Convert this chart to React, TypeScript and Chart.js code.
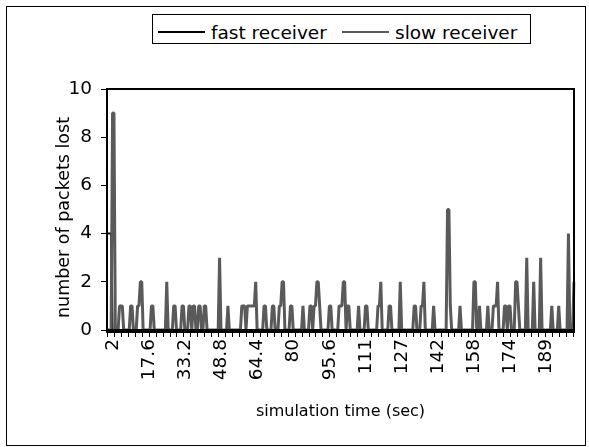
import React, { useEffect, useRef } from 'react';
import { Chart, registerables } from 'chart.js';

Chart.register(...registerables);

// ---- data ----
const TIME_START = 2;
const TIME_STEP = 0.6;
const X_LABEL_EVERY = 26;
const X_TICK_EVERY = 5;
const X_TICK_LABELS = ['2', '17.6', '33.2', '48.8', '64.4', '80', '95.6', '111', '127', '142', '158', '174', '189'];
const Y_TICKS = [0, 2, 4, 6, 8, 10];
const X_TITLE = 'simulation time (sec)';
const Y_TITLE = 'number of packets lost';

const SLOW_RECEIVER = [
  0,0,0,0,9,9,0,0,0,1,1,1,0,0,0,0,0,1,1,0,
  0,0,1,1,2,2,0,0,0,0,0,0,1,1,0,0,0,0,0,0,
  0,0,0,2,0,0,0,0,1,1,0,0,0,0,1,1,0,0,0,1,
  1,0,1,1,0,0,1,1,0,0,1,1,0,0,0,0,0,0,0,0,
  0,3,0,0,0,0,0,1,0,0,0,0,0,0,0,0,0,1,1,1,
  0,1,1,1,1,1,1,2,0,0,0,0,0,1,1,0,0,0,0,1,
  1,0,0,0,1,1,2,2,0,0,0,0,1,1,0,0,0,0,0,0,
  0,1,0,0,0,0,1,1,0,1,1,2,2,1,0,0,0,0,0,0,
  1,1,0,0,0,0,0,1,1,1,2,2,0,1,1,0,0,0,0,0,
  0,1,0,0,0,0,1,1,0,0,0,0,0,0,0,1,1,2,0,0,
  0,0,0,1,1,0,0,0,0,0,0,2,0,0,0,0,0,0,0,0,
  0,1,1,0,0,0,1,1,2,0,0,0,0,0,0,1,0,0,0,0,
  0,0,0,0,0,5,5,1,0,0,0,0,0,0,1,0,0,0,0,0,
  0,0,0,0,2,2,0,0,1,0,0,0,0,0,1,0,0,0,1,1,
  1,2,0,0,0,0,1,1,0,1,1,0,0,0,2,2,1,0,0,0,
  0,0,3,0,0,0,0,2,0,0,0,0,3,0,0,0,0,0,0,0,
  1,0,0,0,0,1,0,0,0,0,0,0,4,0,0,0,2,
];

const FAST_RECEIVER = [
  4,4,4,4,0,0,0,0,0,0,0,0,0,0,0,0,0,0,0,0,
  0,0,0,0,0,0,0,0,0,0,0,0,0,0,0,0,0,0,0,0,
  0,0,0,0,0,0,0,0,0,0,0,0,0,0,0,0,0,0,0,0,
  0,0,0,0,0,0,0,0,0,0,0,0,0,0,0,0,0,0,0,0,
  0,0,0,0,0,0,0,0,0,0,0,0,0,0,0,0,0,0,0,0,
  0,0,0,0,0,0,0,0,0,0,0,0,0,0,0,0,0,0,0,0,
  0,0,0,0,0,0,0,0,0,0,0,0,0,0,0,0,0,0,0,0,
  0,0,0,0,0,0,0,0,0,0,0,0,0,0,0,0,0,0,0,0,
  0,0,0,0,0,0,0,0,0,0,0,0,0,0,0,0,0,0,0,0,
  0,0,0,0,0,0,0,0,0,0,0,0,0,0,0,0,0,0,0,0,
  0,0,0,0,0,0,0,0,0,0,0,0,0,0,0,0,0,0,0,0,
  0,0,0,0,0,0,0,0,0,0,0,0,0,0,0,0,0,0,0,0,
  0,0,0,0,0,0,0,0,0,0,0,0,0,0,0,0,0,0,0,0,
  0,0,0,0,0,0,0,0,0,0,0,0,0,0,0,0,0,0,0,0,
  0,0,0,0,0,0,0,0,0,0,0,0,0,0,0,0,0,0,0,0,
  0,0,0,0,0,0,0,0,0,0,0,0,0,0,0,0,0,0,0,0,
  0,0,0,0,0,0,0,0,0,0,0,0,0,0,0,0,0,
];

const TIMES = SLOW_RECEIVER.map((_, i) => +(TIME_START + i * TIME_STEP).toFixed(1));

const FONT = 'DejaVu Sans';
const SLOW_COLOR = '#5a5a5a';

const framePlugin = {
  id: 'frameAndTicks',
  afterDatasetsDraw(chart: any) {
    const { ctx, chartArea } = chart;
    const xs = chart.scales.x;
    ctx.save();
    ctx.strokeStyle = '#000';
    // plot border
    ctx.lineWidth = 2;
    ctx.strokeRect(chartArea.left, chartArea.top, chartArea.right - chartArea.left, chartArea.bottom - chartArea.top);
    // heavy category axis line
    ctx.lineWidth = 4;
    ctx.beginPath();
    ctx.moveTo(chartArea.left - 1, chartArea.bottom + 1);
    ctx.lineTo(chartArea.right + 1, chartArea.bottom + 1);
    ctx.stroke();
    // category tick marks
    ctx.lineWidth = 1;
    ctx.beginPath();
    for (let i = 0; i < TIMES.length; i += X_TICK_EVERY) {
      const x = Math.round(xs.getPixelForValue(i)) + 0.5;
      ctx.moveTo(x, chartArea.bottom + 2);
      ctx.lineTo(x, chartArea.bottom + 7);
    }
    ctx.stroke();
    ctx.restore();
  },
  afterDraw(chart: any) {
    // value axis title, placed as in the source chart
    const { ctx, chartArea } = chart;
    ctx.save();
    ctx.fillStyle = '#000';
    ctx.font = `17.5px "${FONT}"`;
    ctx.textAlign = 'center';
    ctx.textBaseline = 'middle';
    ctx.translate(64, (chartArea.top + chartArea.bottom) / 2 + 8);
    ctx.rotate(-Math.PI / 2);
    ctx.fillText(Y_TITLE, 0, 0);
    ctx.restore();
  },
};

function ChartCanvas() {
  const ref = useRef<HTMLCanvasElement | null>(null);
  useEffect(() => {
    if (!ref.current) return;
    const chart = new Chart(ref.current, {
      type: 'line',
      data: {
        labels: TIMES,
        datasets: [
          {
            label: 'fast receiver',
            data: FAST_RECEIVER,
            borderColor: '#000',
            backgroundColor: '#000',
            borderWidth: 2,
            pointRadius: 0,
            tension: 0,
            borderJoinStyle: 'bevel',
            order: 1,
          },
          {
            label: 'slow receiver',
            data: SLOW_RECEIVER,
            borderColor: SLOW_COLOR,
            backgroundColor: SLOW_COLOR,
            borderWidth: 3,
            pointRadius: 0,
            tension: 0,
            borderJoinStyle: 'bevel',
            order: 0,
          },
        ],
      },
      options: {
        responsive: false,
        animation: false,
        devicePixelRatio: 1,
        layout: { padding: { left: 50, right: 15, top: 89, bottom: 20 } },
        plugins: { legend: { display: false }, tooltip: { enabled: false } },
        scales: {
          x: {
            type: 'category',
            offset: false,
            grid: { display: false, drawTicks: false },
            border: { display: false },
            ticks: {
              autoSkip: false,
              minRotation: 90,
              maxRotation: 90,
              padding: 9,
              labelOffset: 6,
              color: '#000',
              font: { family: FONT, size: 18.5 },
              callback: (_v: any, i: number) => (i % X_LABEL_EVERY === 0 ? X_TICK_LABELS[i / X_LABEL_EVERY] : null),
            },
            title: {
              display: true,
              text: X_TITLE,
              color: '#000',
              font: { family: FONT, size: 16 },
              padding: { top: 0, bottom: 6 },
            },
            afterFit: (s: any) => {
              s.height = 97;
            },
          },
          y: {
            min: 0,
            max: 10,
            afterBuildTicks: (s: any) => {
              s.ticks = Y_TICKS.map((v) => ({ value: v }));
            },
            grid: { drawOnChartArea: false, drawTicks: true, tickLength: 6, color: '#000', lineWidth: 1 },
            border: { display: false },
            ticks: {
              color: '#000',
              padding: 9,
              font: { family: FONT, size: 18.5 },
            },
            title: { display: false },
            afterFit: (s: any) => {
              s.width = 57;
            },
          },
        },
      },
      plugins: [framePlugin],
    } as any);
    return () => chart.destroy();
  }, []);
  return <canvas ref={ref} width={589} height={447} style={{ display: 'block', width: 589, height: 447 }} />;
}

export default function App() {
  const legendText: React.CSSProperties = {
    position: 'absolute',
    top: 9,
    fontFamily: FONT,
    fontSize: '18.5px',
    lineHeight: '18.5px',
    color: '#000',
    whiteSpace: 'nowrap',
  };
  return (
    <div style={{ position: 'absolute', left: 0, top: 0, width: 589, height: 447, background: '#fff', overflow: 'hidden' }}>
      <div
        style={{
          position: 'absolute',
          left: 6,
          top: 6,
          width: 580,
          height: 440,
          border: '1px solid #000',
          boxSizing: 'border-box',
        }}
      />
      <div style={{ position: 'absolute', left: 0, top: 0 }}>
        <ChartCanvas />
      </div>
      <div
        style={{
          position: 'absolute',
          left: 152,
          top: 14,
          width: 379,
          height: 30,
          border: '1px solid #000',
          boxSizing: 'border-box',
          background: '#fff',
        }}
      >
        <div style={{ position: 'absolute', left: 5, top: 16, width: 47, height: 2, background: '#000' }} />
        <span style={{ ...legendText, left: 58 }}>fast receiver</span>
        <div style={{ position: 'absolute', left: 189, top: 16, width: 47, height: 2, background: SLOW_COLOR }} />
        <span style={{ ...legendText, left: 242 }}>slow receiver</span>
      </div>
    </div>
  );
}
